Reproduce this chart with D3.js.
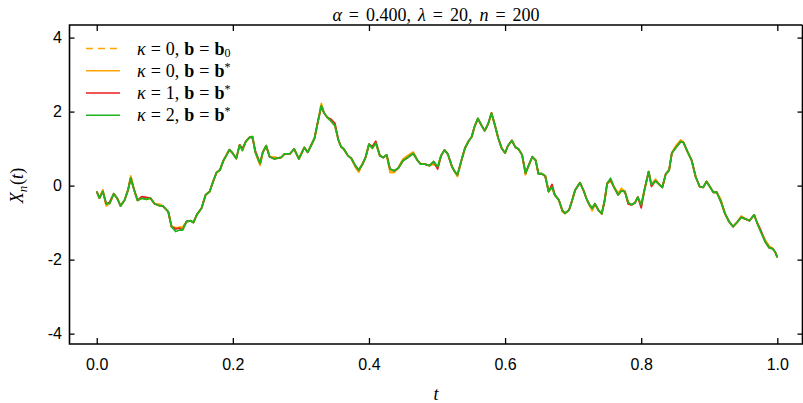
<!DOCTYPE html>
<html>
<head>
<meta charset="utf-8">
<script src="https://cdn.jsdelivr.net/npm/d3@7"></script>
<style>
  body { margin: 0; background: #fff; }
  .tick text { font-family: "Liberation Sans", Arial, sans-serif; font-size: 16px; fill: #000; }
  .math { font-family: "Liberation Serif", "DejaVu Serif", serif; font-size: 18px; fill: #000; }
</style>
</head>
<body>
<div id="chart"></div>
<script>
// time grid
const tValues = [
  0.000,0.004,0.009,0.014,0.019,0.025,0.030,0.035,0.041,0.046,
  0.050,0.055,0.060,0.066,0.073,0.079,0.085,0.093,0.097,0.105,
  0.110,0.116,0.122,0.126,0.132,0.138,0.142,0.147,0.154,0.160,
  0.166,0.171,0.176,0.181,0.186,0.191,0.195,0.200,0.205,0.210,
  0.214,0.219,0.225,0.229,0.233,0.240,0.244,0.249,0.254,0.261,
  0.266,0.271,0.276,0.284,0.290,0.297,0.305,0.310,0.314,0.320,
  0.325,0.330,0.334,0.339,0.344,0.350,0.355,0.359,0.363,0.369,
  0.374,0.380,0.385,0.391,0.395,0.400,0.405,0.410,0.416,0.421,
  0.426,0.431,0.437,0.443,0.450,0.457,0.465,0.471,0.476,0.482,
  0.489,0.495,0.501,0.506,0.511,0.516,0.522,0.526,0.530,0.536,
  0.541,0.546,0.551,0.555,0.560,0.565,0.570,0.575,0.580,0.585,
  0.590,0.595,0.600,0.604,0.610,0.615,0.620,0.625,0.630,0.635,
  0.640,0.645,0.649,0.654,0.659,0.664,0.669,0.673,0.679,0.684,
  0.688,0.694,0.698,0.703,0.710,0.715,0.720,0.724,0.728,0.732,
  0.737,0.742,0.746,0.750,0.755,0.760,0.766,0.771,0.776,0.781,
  0.786,0.791,0.795,0.800,0.805,0.811,0.815,0.821,0.826,0.831,
  0.836,0.841,0.845,0.852,0.858,0.862,0.868,0.874,0.880,0.886,
  0.891,0.896,0.901,0.906,0.911,0.917,0.923,0.929,0.935,0.941,
  0.947,0.953,0.959,0.966,0.970,0.976,0.982,0.988,0.993,0.997,
  1.000
];

// kappa = 2, b = b*  (green, on top)
const k2bStar = [
  -0.16,-0.34,-0.16,-0.49,-0.48,-0.22,-0.34,-0.55,-0.39,-0.12,
  0.20,-0.12,-0.40,-0.34,-0.37,-0.34,-0.49,-0.55,-0.55,-0.70,
  -1.11,-1.24,-1.20,-1.20,-0.97,-0.95,-1.00,-0.79,-0.61,-0.25,
  -0.16,0.11,0.35,0.42,0.67,0.83,0.97,0.87,0.73,1.10,
  0.95,1.19,1.31,1.32,0.90,0.60,0.90,1.08,0.78,0.72,
  0.74,0.76,0.86,0.86,0.99,0.72,1.03,0.90,1.05,1.28,
  1.73,2.16,1.96,1.84,1.75,1.62,1.24,1.05,0.99,0.81,
  0.74,0.54,0.42,0.60,0.76,1.12,1.01,1.15,0.81,0.76,
  0.83,0.45,0.40,0.47,0.67,0.76,0.87,0.69,0.58,0.58,
  0.54,0.65,0.51,0.81,0.96,0.85,0.51,0.38,0.29,0.69,
  1.01,1.19,1.32,1.59,1.82,1.64,1.48,1.66,1.96,1.64,
  1.28,1.01,0.88,1.07,1.22,1.04,0.98,0.83,0.34,0.56,
  0.78,0.68,0.32,0.32,0.26,-0.16,-0.04,-0.25,-0.39,-0.66,
  -0.75,-0.66,-0.43,-0.12,0.08,-0.12,-0.37,-0.52,-0.61,-0.49,
  -0.66,-0.76,-0.43,0.06,0.20,-0.04,-0.25,-0.14,-0.16,-0.46,
  -0.52,-0.46,-0.31,-0.52,-0.10,0.38,0.02,0.13,0.04,-0.05,
  0.31,0.42,0.88,1.05,1.19,1.17,0.92,0.69,0.24,-0.03,
  -0.05,0.11,-0.03,-0.18,-0.18,-0.43,-0.75,-0.97,-1.11,-0.99,
  -0.86,-0.90,-0.95,-0.79,-0.99,-1.26,-1.51,-1.68,-1.70,-1.80,
  -1.94
];

// kappa = 1, b = b*  (red)
const k1bStar = [
  -0.16,-0.34,-0.16,-0.49,-0.45,-0.22,-0.34,-0.55,-0.39,-0.12,
  0.20,-0.12,-0.40,-0.30,-0.32,-0.34,-0.49,-0.55,-0.55,-0.70,
  -1.11,-1.17,-1.15,-1.20,-0.97,-0.95,-1.00,-0.79,-0.61,-0.25,
  -0.16,0.11,0.35,0.42,0.67,0.83,0.97,0.87,0.73,1.10,
  1.00,1.19,1.31,1.28,0.94,0.60,0.90,1.08,0.78,0.72,
  0.74,0.76,0.86,0.86,0.99,0.72,1.03,0.90,1.05,1.28,
  1.73,2.14,1.96,1.84,1.80,1.68,1.24,1.05,0.99,0.81,
  0.74,0.54,0.42,0.60,0.76,1.12,1.06,1.20,0.81,0.76,
  0.83,0.45,0.40,0.47,0.67,0.76,0.87,0.69,0.58,0.58,
  0.54,0.65,0.45,0.81,0.96,0.85,0.51,0.38,0.29,0.69,
  1.01,1.19,1.32,1.59,1.80,1.64,1.48,1.66,1.96,1.64,
  1.28,1.01,0.88,1.07,1.22,1.04,0.98,0.83,0.34,0.56,
  0.78,0.68,0.32,0.32,0.26,-0.16,0.03,-0.25,-0.39,-0.66,
  -0.75,-0.66,-0.43,-0.12,0.08,-0.12,-0.37,-0.52,-0.61,-0.49,
  -0.66,-0.76,-0.43,0.06,0.16,-0.04,-0.25,-0.14,-0.16,-0.50,
  -0.52,-0.46,-0.31,-0.60,-0.10,0.38,-0.02,0.13,0.04,-0.05,
  0.31,0.42,0.88,1.05,1.19,1.17,0.92,0.69,0.24,-0.03,
  -0.05,0.11,-0.03,-0.18,-0.18,-0.43,-0.75,-0.97,-1.11,-0.99,
  -0.86,-0.90,-0.95,-0.79,-0.99,-1.22,-1.51,-1.68,-1.70,-1.80,
  -1.94
];

// kappa = 0, b = b*  (orange, solid)
const k0bStar = [
  -0.16,-0.34,-0.12,-0.55,-0.48,-0.22,-0.34,-0.55,-0.39,-0.12,
  0.26,-0.12,-0.40,-0.34,-0.37,-0.34,-0.49,-0.51,-0.55,-0.70,
  -1.11,-1.14,-1.12,-1.13,-0.97,-0.95,-1.00,-0.79,-0.61,-0.25,
  -0.16,0.11,0.35,0.42,0.67,0.86,0.97,0.87,0.73,1.10,
  0.95,1.19,1.31,1.32,0.90,0.55,0.90,1.08,0.78,0.77,
  0.74,0.76,0.86,0.86,0.99,0.72,1.03,0.90,1.05,1.28,
  1.73,2.22,1.96,1.84,1.75,1.62,1.24,1.05,0.99,0.81,
  0.74,0.50,0.37,0.60,0.76,1.12,1.01,1.15,0.81,0.76,
  0.83,0.36,0.36,0.47,0.72,0.81,0.91,0.69,0.58,0.58,
  0.54,0.58,0.51,0.81,0.96,0.85,0.51,0.38,0.25,0.69,
  1.01,1.19,1.32,1.59,1.82,1.64,1.48,1.66,1.96,1.64,
  1.28,1.01,0.88,1.07,1.22,1.04,0.98,0.83,0.30,0.56,
  0.78,0.68,0.32,0.32,0.26,-0.16,-0.04,-0.25,-0.39,-0.70,
  -0.75,-0.66,-0.43,-0.12,0.08,-0.12,-0.37,-0.52,-0.68,-0.49,
  -0.66,-0.76,-0.43,0.06,0.12,-0.04,-0.20,-0.08,-0.16,-0.46,
  -0.52,-0.46,-0.31,-0.52,-0.10,0.38,0.02,0.17,0.04,-0.05,
  0.31,0.42,0.88,1.10,1.23,1.17,0.92,0.69,0.24,-0.03,
  -0.05,0.11,-0.03,-0.18,-0.18,-0.38,-0.75,-0.97,-1.11,-0.99,
  -0.82,-0.90,-0.95,-0.79,-0.99,-1.26,-1.46,-1.64,-1.70,-1.80,
  -1.94
];

// kappa = 0, b = b0 (orange, dashed) - lies under the solid orange curve
const k0b0 = [
  -0.16,-0.34,-0.12,-0.55,-0.48,-0.22,-0.34,-0.55,-0.39,-0.12,
  0.26,-0.12,-0.40,-0.34,-0.37,-0.34,-0.49,-0.51,-0.55,-0.70,
  -1.11,-1.14,-1.12,-1.13,-0.97,-0.95,-1.00,-0.79,-0.61,-0.25,
  -0.16,0.11,0.35,0.42,0.67,0.86,0.97,0.87,0.73,1.10,
  0.95,1.19,1.31,1.32,0.90,0.55,0.90,1.08,0.78,0.77,
  0.74,0.76,0.86,0.86,0.99,0.72,1.03,0.90,1.05,1.28,
  1.73,2.22,1.96,1.84,1.75,1.62,1.24,1.05,0.99,0.81,
  0.74,0.50,0.37,0.60,0.76,1.12,1.01,1.15,0.81,0.76,
  0.83,0.36,0.36,0.47,0.72,0.81,0.91,0.69,0.58,0.58,
  0.54,0.58,0.51,0.81,0.96,0.85,0.51,0.38,0.25,0.69,
  1.01,1.19,1.32,1.59,1.82,1.64,1.48,1.66,1.96,1.64,
  1.28,1.01,0.88,1.07,1.22,1.04,0.98,0.83,0.30,0.56,
  0.78,0.68,0.32,0.32,0.26,-0.16,-0.04,-0.25,-0.39,-0.70,
  -0.75,-0.66,-0.43,-0.12,0.08,-0.12,-0.37,-0.52,-0.68,-0.49,
  -0.66,-0.76,-0.43,0.06,0.12,-0.04,-0.20,-0.08,-0.16,-0.46,
  -0.52,-0.46,-0.31,-0.52,-0.10,0.38,0.02,0.17,0.04,-0.05,
  0.31,0.42,0.88,1.10,1.23,1.17,0.92,0.69,0.24,-0.03,
  -0.05,0.11,-0.03,-0.18,-0.18,-0.38,-0.75,-0.97,-1.11,-0.99,
  -0.82,-0.90,-0.95,-0.79,-0.99,-1.26,-1.46,-1.64,-1.70,-1.80,
  -1.94
];

const xTicks = [0, 0.2, 0.4, 0.6, 0.8, 1.0];
const xTickLabels = ['0.0', '0.2', '0.4', '0.6', '0.8', '1.0'];
const yTicks = [-4, -2, 0, 2, 4];
const yTickLabels = ['-4', '-2', '0', '2', '4'];

const width = 803;
const height = 403;
const margin = { top: 25, right: 0.5, bottom: 59, left: 69.5 };

const svg = d3.select('#chart')
    .append('svg')
    .attr('width', width)
    .attr('height', height);

const xScale = d3.scaleLinear()
    .domain([-0.04, 1.037])
    .range([margin.left, width - margin.right]);
const yScale = d3.scaleLinear()
    .domain([-4.28, 4.34])
    .range([height - margin.bottom, margin.top]);

// axes, ticks pointing inwards
const xAxis = d3.axisBottom(xScale)
    .tickValues(xTicks)
    .tickSize(-6)
    .tickPadding(15)
    .tickFormat((d, i) => xTickLabels[i]);
svg.append('g')
    .classed('x axis', true)
    .attr('transform', `translate(0,${height - margin.bottom})`)
    .call(xAxis);

svg.append('g')
    .attr('transform', `translate(0,${margin.top})`)
    .call(d3.axisTop(xScale).tickValues(xTicks).tickSize(-6).tickFormat(''));

const yAxis = d3.axisLeft(yScale)
    .tickValues(yTicks)
    .tickSize(-5)
    .tickPadding(7.5)
    .tickFormat((d, i) => yTickLabels[i]);
svg.append('g')
    .classed('y axis', true)
    .attr('transform', `translate(${margin.left},0)`)
    .call(yAxis);

svg.append('g')
    .attr('transform', `translate(${width - margin.right},0)`)
    .call(d3.axisRight(yScale).tickValues(yTicks).tickSize(-5).tickFormat(''));

svg.selectAll('.domain').remove();
svg.selectAll('.tick line').attr('stroke', '#000').attr('stroke-width', 1.3);

// frame
svg.append('path')
    .attr('d', `M${width - margin.right},${margin.top}H${margin.left}V${height - margin.bottom}H${width - margin.right}V${margin.top}`)
    .attr('stroke', '#000')
    .attr('stroke-width', 1.6)
    .attr('fill', 'none');

// series
const series = [
    { values: k0b0, color: '#ffa500', dash: '7,5' },
    { values: k0bStar, color: '#ffa500', dash: null },
    { values: k1bStar, color: '#ee1c1c', dash: null },
    { values: k2bStar, color: '#1fb51f', dash: null }
];

const line = d3.line()
    .x((d, i) => xScale(tValues[i]))
    .y(d => yScale(d));

svg.selectAll('.series')
    .data(series)
    .enter()
    .append('path')
    .classed('series', true)
    .attr('d', d => line(d.values))
    .attr('fill', 'none')
    .attr('stroke', d => d.color)
    .attr('stroke-width', 1.8)
    .attr('stroke-linejoin', 'round')
    .attr('stroke-dasharray', d => d.dash);

// title (TeX-like spacing around "=")
const title = svg.append('text')
    .classed('math', true)
    .attr('x', (margin.left + width - margin.right) / 2)
    .attr('y', 21)
    .style('text-anchor', 'middle');
title.append('tspan').style('font-style', 'italic').text('α');
title.append('tspan').attr('dx', 7).text('=');
title.append('tspan').attr('dx', 7).text('0.400,');
title.append('tspan').attr('dx', 7).style('font-style', 'italic').text('λ');
title.append('tspan').attr('dx', 7).text('=');
title.append('tspan').attr('dx', 7).text('20,');
title.append('tspan').attr('dx', 7).style('font-style', 'italic').text('n');
title.append('tspan').attr('dx', 7).text('=');
title.append('tspan').attr('dx', 7).text('200');

// axis labels
svg.append('text')
    .classed('math', true)
    .attr('x', 436)
    .attr('y', 400)
    .style('text-anchor', 'middle')
    .style('font-style', 'italic')
    .text('t');

const ylab = svg.append('text')
    .classed('math', true)
    .attr('transform', `translate(23,${yScale(0)}) rotate(-90)`)
    .style('text-anchor', 'middle');
ylab.append('tspan').style('font-style', 'italic').text('X');
ylab.append('tspan').style('font-style', 'italic').style('font-size', '13px').attr('dy', 4).text('n');
ylab.append('tspan').attr('dy', -4).attr('dx', 1).text('(');
ylab.append('tspan').style('font-style', 'italic').text('t');
ylab.append('tspan').text(')');

// legend
const legendLabels = [
    { kappa: '0', sub: '0', sup: null },
    { kappa: '0', sub: null, sup: '*' },
    { kappa: '1', sub: null, sup: '*' },
    { kappa: '2', sub: null, sup: '*' }
];
const legendY = [48.5, 70.8, 93, 115.2];

const items = svg.append('g')
    .classed('legend', true)
    .selectAll('.item')
    .data(series)
    .enter()
    .append('g')
    .classed('item', true)
    .attr('transform', (d, i) => `translate(0,${legendY[i]})`);

items.append('line')
    .attr('x1', 86)
    .attr('x2', 120)
    .attr('stroke', d => d.color)
    .attr('stroke-width', 1.6)
    .attr('stroke-dasharray', d => d.dash);

items.each(function(d, i) {
    const lab = legendLabels[i];
    const txt = d3.select(this).append('text')
        .classed('math', true)
        .attr('x', 137)
        .attr('y', 6);
    txt.append('tspan').style('font-style', 'italic').text('κ');
    txt.append('tspan').attr('dx', 5).text('=');
    txt.append('tspan').attr('dx', 5).text(lab.kappa + ',');
    txt.append('tspan').attr('dx', 5).style('font-weight', 'bold').text('b');
    txt.append('tspan').attr('dx', 5).text('=');
    txt.append('tspan').attr('dx', 5).style('font-weight', 'bold').text('b');
    if (lab.sub) {
        txt.append('tspan').style('font-size', '12px').attr('dy', 2).text(lab.sub);
    } else {
        txt.append('tspan').style('font-size', '12px').attr('dy', -6).text(lab.sup);
    }
});
</script>
</body>
</html>
